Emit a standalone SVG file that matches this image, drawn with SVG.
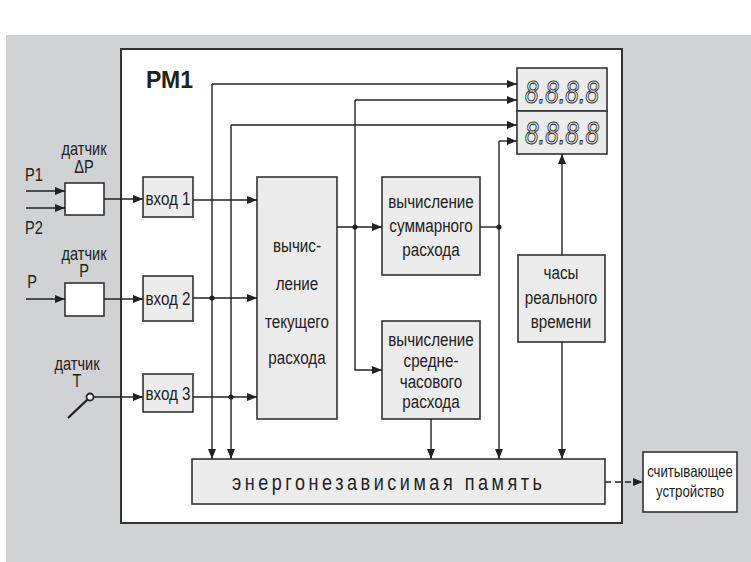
<svg xmlns="http://www.w3.org/2000/svg" width="751" height="562" viewBox="0 0 751 562">
<defs>
<marker id="ah" viewBox="0 0 10 8" refX="10" refY="4" markerWidth="11" markerHeight="8" markerUnits="userSpaceOnUse" orient="auto">
<path d="M0,0 L10,4 L0,8 z" fill="#222"/>
</marker>
<style>
.ln{fill:none;stroke:#222;stroke-width:1.4}
.bx{fill:#ececec;stroke:#333;stroke-width:1.6}
.wb{fill:#fff;stroke:#333;stroke-width:1.6}
.t{font-family:"Liberation Sans",Arial,sans-serif;font-size:19px;fill:#222;text-anchor:middle}
.l{font-size:18px}
.s{font-size:16.5px}
.d{font-family:"Liberation Sans",sans-serif;font-style:italic;font-size:31px;fill:#f2f2f2;stroke:#333;stroke-width:1.1;text-anchor:middle}
.dot{fill:#222}
</style>
</defs>
<rect x="6" y="35" width="745" height="527" fill="#d1d2d4"/>
<g id="main">
<rect x="121" y="49" width="501" height="474" fill="#fff" stroke="#333" stroke-width="2"/>
<text x="146" y="88" font-family="Liberation Sans,sans-serif" font-weight="bold" font-size="23" fill="#222">РМ1</text>
</g>
<g id="sensorDP">
<rect class="wb" x="65" y="183" width="39" height="32"/>
<text class="t l" x="84" y="155" transform="matrix(.81 0 0 1 15.96 0)">датчик</text>
<text class="t l" x="84" y="173" transform="matrix(.81 0 0 1 15.96 0)">ΔP</text>
<text class="t l" x="34" y="181" transform="matrix(.81 0 0 1 6.46 0)">P1</text>
<text class="t l" x="34" y="234" transform="matrix(.81 0 0 1 6.46 0)">P2</text>
</g>
<g id="sensorP">
<rect class="wb" x="65" y="283" width="39" height="33"/>
<text class="t l" x="84" y="260" transform="matrix(.81 0 0 1 15.96 0)">датчик</text>
<text class="t l" x="84" y="277" transform="matrix(.81 0 0 1 15.96 0)">P</text>
<text class="t l" x="32" y="288" transform="matrix(.81 0 0 1 6.08 0)">P</text>
</g>
<g id="sensorT">
<text class="t l" x="77" y="370" transform="matrix(.81 0 0 1 14.63 0)">датчик</text>
<text class="t l" x="77" y="387" transform="matrix(.81 0 0 1 14.63 0)">T</text>
<line x1="68" y1="418" x2="87.5" y2="399.5" stroke="#222" stroke-width="2.4"/>
<circle cx="90" cy="397" r="3.5" fill="#fff" stroke="#222" stroke-width="1.8"/>
</g>
<g id="in1"><rect class="bx" x="143" y="177" width="50" height="40"/><text class="t" x="168" y="205" transform="matrix(.8 0 0 1 33.6 0)">вход 1</text></g>
<g id="in2"><rect class="bx" x="143" y="276" width="50" height="45"/><text class="t" x="168" y="305" transform="matrix(.8 0 0 1 33.6 0)">вход 2</text></g>
<g id="in3"><rect class="bx" x="143" y="374" width="50" height="38"/><text class="t" x="168" y="400" transform="matrix(.8 0 0 1 33.6 0)">вход 3</text></g>
<g id="calcCur"><rect class="bx" x="257" y="177" width="80" height="242"/>
<g transform="matrix(.8 0 0 1 59.4 0)">
<text class="t" x="297" y="252">вычис-</text><text class="t" x="297" y="290">ление</text><text class="t" x="297" y="328">текущего</text><text class="t" x="297" y="364">расхода</text></g></g>
<g id="calcSum"><rect class="bx" x="382" y="177" width="98" height="98"/>
<g transform="matrix(.8 0 0 1 86.2 0)">
<text class="t" x="431" y="208">вычисление</text><text class="t" x="431" y="232">суммарного</text><text class="t" x="431" y="256">расхода</text></g></g>
<g id="calcAvg"><rect class="bx" x="382" y="321" width="98" height="98"/>
<g transform="matrix(.8 0 0 1 86.2 0)">
<text class="t" x="431" y="346">вычисление</text><text class="t" x="431" y="367">средне-</text><text class="t" x="431" y="388">часового</text><text class="t" x="431" y="408">расхода</text></g></g>
<g id="clock"><rect class="bx" x="518" y="255" width="87" height="87"/>
<g transform="matrix(.8 0 0 1 112.2 0)">
<text class="t" x="561" y="279">часы</text><text class="t" x="561" y="304">реального</text><text class="t" x="561" y="328">времени</text></g></g>
<g id="disp1"><rect class="bx" x="517" y="68" width="90" height="43"/><text class="d" x="562" y="102.5" textLength="74" lengthAdjust="spacingAndGlyphs">8.8.8.8</text></g>
<g id="disp2"><rect class="bx" x="517" y="111" width="90" height="43"/><text class="d" x="562" y="144" textLength="74" lengthAdjust="spacingAndGlyphs">8.8.8.8</text></g>
<g id="memory"><rect class="bx" x="192" y="459" width="413" height="45"/>
<text class="t" x="387" y="490" style="font-size:22px" textLength="378" lengthAdjust="spacing" transform="matrix(.82 0 0 1 69.66 0)">энергонезависимая память</text></g>
<g id="reader"><rect class="wb" x="643" y="452" width="94" height="60"/>
<g transform="matrix(.8 0 0 1 138 0)">
<text class="t s" x="690" y="477">считывающее</text><text class="t s" x="690" y="497">устройство</text></g></g>
<g id="connectors">
<path class="ln" d="M26,191 H65" marker-end="url(#ah)"/>
<path class="ln" d="M26,208 H65" marker-end="url(#ah)"/>
<path class="ln" d="M104,199 H143" marker-end="url(#ah)"/>
<path class="ln" d="M193,200 H257" marker-end="url(#ah)"/>
<path class="ln" d="M26,299 H65" marker-end="url(#ah)"/>
<path class="ln" d="M104,299 H143" marker-end="url(#ah)"/>
<path class="ln" d="M193,298 H257" marker-end="url(#ah)"/>
<path class="ln" d="M93.5,397 H143" marker-end="url(#ah)"/>
<path class="ln" d="M193,397 H257" marker-end="url(#ah)"/>
<path class="ln" d="M212,84 H517" marker-end="url(#ah)"/>
<path class="ln" d="M212,84 V459" marker-end="url(#ah)"/>
<path class="ln" d="M231,125 H517" marker-end="url(#ah)"/>
<path class="ln" d="M231,125 V459" marker-end="url(#ah)"/>
<path class="ln" d="M337,227 H382" marker-end="url(#ah)"/>
<path class="ln" d="M355,100 H517" marker-end="url(#ah)"/>
<path class="ln" d="M355,100 V370 H382" marker-end="url(#ah)"/>
<path class="ln" d="M480,227 H499"/>
<path class="ln" d="M499,141 H517" marker-end="url(#ah)"/>
<path class="ln" d="M499,141 V459" marker-end="url(#ah)"/>
<path class="ln" d="M431,419 V459" marker-end="url(#ah)"/>
<path class="ln" d="M562,255 V154" marker-end="url(#ah)"/>
<path class="ln" d="M562,342 V459" marker-end="url(#ah)"/>
<path class="ln" d="M605,482 H643" stroke-dasharray="6,4" marker-end="url(#ah)"/>
<circle class="dot" cx="212" cy="298" r="2.6"/>
<circle class="dot" cx="231" cy="397" r="2.6"/>
<circle class="dot" cx="355" cy="227" r="2.6"/>
<circle class="dot" cx="499" cy="227" r="2.6"/>
</g>
</svg>
